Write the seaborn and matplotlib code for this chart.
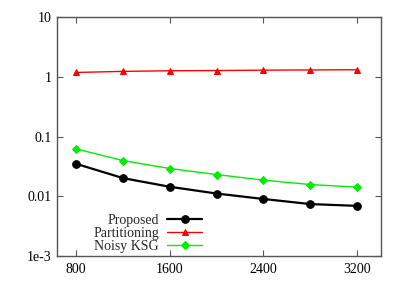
import numpy as np
import matplotlib
matplotlib.use('Agg')
import matplotlib.pyplot as plt
import seaborn as sns
import pandas as pd

# data
n_samples = [800, 1200, 1600, 2000, 2400, 2800, 3200]
proposed = [0.0348, 0.0201, 0.0144, 0.0111, 0.0090, 0.0074, 0.0069]
partitioning = [1.18, 1.23, 1.26, 1.27, 1.29, 1.30, 1.31]
noisy_ksg = [0.062, 0.0395, 0.0291, 0.0231, 0.0186, 0.0157, 0.0142]

x_ticks = [800, 1600, 2400, 3200]
y_ticks = [1e-3, 0.01, 0.1, 1, 10]
y_labels = ['1e-3', '0.01', '0.1', '1', '10']

sns.set_style('ticks')
plt.rcParams['font.family'] = ['Liberation Serif', 'DejaVu Serif']

fig = plt.figure(figsize=(4.05, 2.84), dpi=100)
ax = fig.add_axes([57 / 405, 1 - 256 / 284, 324 / 405, 239 / 284])

series = [
    ('Proposed', proposed, 'black', 'o', 1.6, 5.5),
    ('Partitioning', partitioning, '#ff0000', '^', 1.0, 4.5),
    ('Noisy KSG', noisy_ksg, '#00ee00', 'D', 1.0, 4.5),
]
for name, vals, col, mk, lw, ms in series:
    df = pd.DataFrame({'n': n_samples, 'err': vals})
    sns.lineplot(data=df, x='n', y='err', ax=ax, color=col, marker=mk,
                 linewidth=lw, markersize=ms, markeredgecolor=col,
                 label=name)

ax.set_yscale('log')
ax.set_ylim(1e-3, 10)
ax.set_xlim(635, 3405)
ax.set_xticks(x_ticks)
ax.set_xticklabels([str(t) for t in x_ticks])
ax.set_yticks(y_ticks)
ax.set_yticklabels(y_labels)
ax.yaxis.set_minor_locator(matplotlib.ticker.NullLocator())
ax.set_xlabel('')
ax.set_ylabel('')
ax.tick_params(direction='in', length=4, width=0.8, color='#555555',
               top=True, right=True, labelsize=10, labelcolor='black')
ax.tick_params(axis='y', pad=4)
ax.tick_params(axis='x', pad=5)
for s in ax.spines.values():
    s.set_color('#555555')
    s.set_linewidth(1.0)

leg = ax.legend(loc='upper right', bbox_to_anchor=(202 / 405, 1 - 214 / 284),
                bbox_transform=fig.transFigure, frameon=False, markerfirst=False,
                fontsize=10, handlelength=2.5, handletextpad=0.6,
                labelspacing=0.0, borderpad=0, borderaxespad=0)

fig.savefig('out.png', dpi=100)
